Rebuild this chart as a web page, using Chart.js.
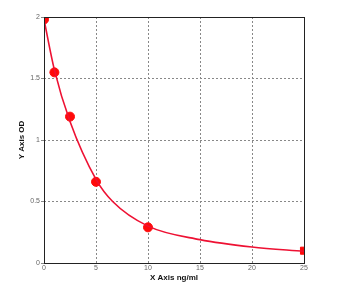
<!DOCTYPE html>
<html>
<head>
<meta charset="utf-8">
<script src="https://cdn.jsdelivr.net/npm/chart.js@4/dist/chart.umd.min.js"></script>
<style>
  html, body { margin: 0; padding: 0; background: #fff; }
  #wrap { width: 350px; height: 303px; }
</style>
</head>
<body>
<div id="wrap"><canvas id="myChart" width="350" height="303"></canvas></div>
<script>
// standard points (ng/ml, OD)
var concValues = [0, 1, 2.5, 5, 10, 25];
var odValues = [1.98, 1.55, 1.19, 0.66, 0.29, 0.10];

// points
var curveX = [0, 1, 2.5, 5, 6.6, 10, 15, 20, 25];
var curveY = [1.98, 1.57, 1.15, 0.68, 0.50, 0.30, 0.19, 0.13, 0.095];

var xTicks = [0, 5, 10, 15, 20, 25];
var yTicks = [0, 0.5, 1, 1.5, 2];

function toPoints(xs, ys) {
    var pts = [];
    for (var i = 0; i < xs.length; i++) {
        pts.push({ x: xs[i], y: ys[i] });
    }
    return pts;
}

var boxPlugin = {
    id: 'box',
    afterDraw: function (chart) {
        var a = chart.chartArea;
        var ctx = chart.ctx;
        ctx.save();
        ctx.strokeStyle = '#222';
        ctx.lineWidth = 1;
        ctx.strokeRect(a.left + 0.5, a.top + 0.5, a.right - a.left, a.bottom - a.top);
        ctx.restore();
    }
};

var ctx = document.getElementById('myChart').getContext('2d');
var myChart = new Chart(ctx, {
    type: 'scatter',
    data: {
        datasets: [
            {
                label: 'Curve',
                data: toPoints(curveX, curveY),
                showLine: true,
                borderColor: '#ee1133',
                borderWidth: 1.6,
                pointRadius: 0,
                cubicInterpolationMode: 'monotone',
                fill: false
            },
            {
                label: 'Standards',
                data: toPoints(concValues, odValues),
                showLine: false,
                backgroundColor: '#ff0a0a',
                borderColor: '#ff0a0a',
                pointStyle: ['circle', 'circle', 'circle', 'circle', 'circle', 'rect'],
                pointRadius: [4.5, 4.5, 4.5, 4.5, 4.5, 5]
            }
        ]
    },
    options: {
        responsive: false,
        animation: false,
        layout: { padding: { top: 17, right: 46, left: 0, bottom: 0 } },
        plugins: {
            legend: { display: false },
            tooltip: { enabled: false }
        },
        scales: {
            x: {
                type: 'linear',
                min: 0,
                max: 25,
                afterBuildTicks: function (axis) {
                    axis.ticks = xTicks.map(function (v) { return { value: v }; });
                },
                afterFit: function (axis) { axis.height = 40; },
                grid: { color: '#888', tickLength: 1, lineWidth: 1 },
                border: { display: false, dash: [2, 2] },
                ticks: { color: '#666', font: { size: 7 }, padding: 0, maxRotation: 0 },
                title: {
                    display: true,
                    text: 'X Axis ng/ml',
                    color: '#111',
                    font: { size: 8, weight: 'bold', family: 'Liberation Sans' },
                    padding: { top: 0, bottom: 20 }
                }
            },
            y: {
                type: 'linear',
                min: 0,
                max: 2,
                afterBuildTicks: function (axis) {
                    axis.ticks = yTicks.map(function (v) { return { value: v }; });
                },
                afterFit: function (axis) { axis.width = 44; },
                grid: { color: '#888', tickLength: 3, lineWidth: 1 },
                border: { display: false, dash: [2, 2] },
                ticks: {
                    color: '#666',
                    font: { size: 7 },
                    padding: 1,
                    callback: function (v) { return String(v); }
                },
                title: {
                    display: true,
                    text: 'Y Axis OD',
                    color: '#111',
                    font: { size: 8, weight: 'bold', family: 'Liberation Sans' },
                    padding: { top: 17, bottom: 0 }
                }
            }
        }
    },
    plugins: [boxPlugin]
});
</script>
</body>
</html>
